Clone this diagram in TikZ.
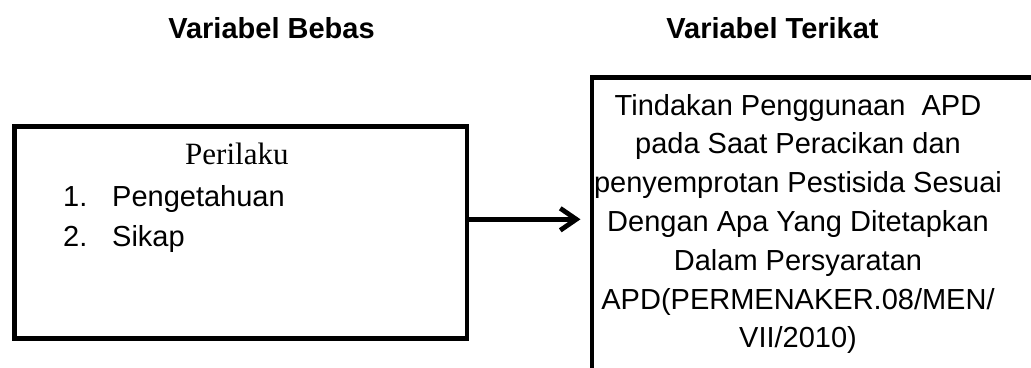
\documentclass[tikz,border=0pt]{standalone}
\usepackage{fontspec}
\setmainfont{Liberation Sans}
\newfontfamily\timesf{Liberation Serif}
\usetikzlibrary{arrows.meta}
\begin{document}
\begin{tikzpicture}[x=1pt,y=-1pt,
  boxline/.style={draw=black,line width=4.8pt,inner sep=0pt,anchor=north west},
  txt/.style={inner sep=0pt,font=\fontsize{29}{38.8}\selectfont},
  head/.style={inner sep=0pt,anchor=base,font=\fontsize{29}{35}\selectfont\bfseries},
  item/.style={inner sep=0pt,anchor=base west,font=\fontsize{29}{35}\selectfont}]
\useasboundingbox (0,0) rectangle (1031,367);
\clip (0,0) rectangle (1031,367);
\node[head] (h1) at (271.5,38) {Variabel Bebas};
\node[head] (h2) at (772.5,38) {Variabel Terikat};
\node[boxline,minimum width=452.5pt,minimum height=212pt] (lb) at (12,124) {};
\node[boxline,minimum width=520pt,minimum height=330pt] (rb) at (589.5,75) {};
\node[item,font=\timesf\fontsize{31}{35}\selectfont] (per) at (185,164) {Perilaku};
\node[item] (i1) at (63,206) {\makebox[49pt][l]{1.}Pengetahuan};
\node[item] (i2) at (63,246) {\makebox[49pt][l]{2.}Sikap};
\node[txt,align=center] (rt) at (798,224) {Tindakan Penggunaan\ \ APD\\pada Saat Peracikan dan\\penyemprotan Pestisida Sesuai\\Dengan Apa Yang Ditetapkan\\Dalam Persyaratan\\APD(PERMENAKER.08/MEN/\\VII/2010)};
\coordinate (ay) at (0,219.3);
\draw[line width=4.8pt,shorten >=9pt,-{Straight Barb[length=16pt,width=22pt]}] (ay -| lb.east) -- (ay -| rb.west);
\end{tikzpicture}
\end{document}
